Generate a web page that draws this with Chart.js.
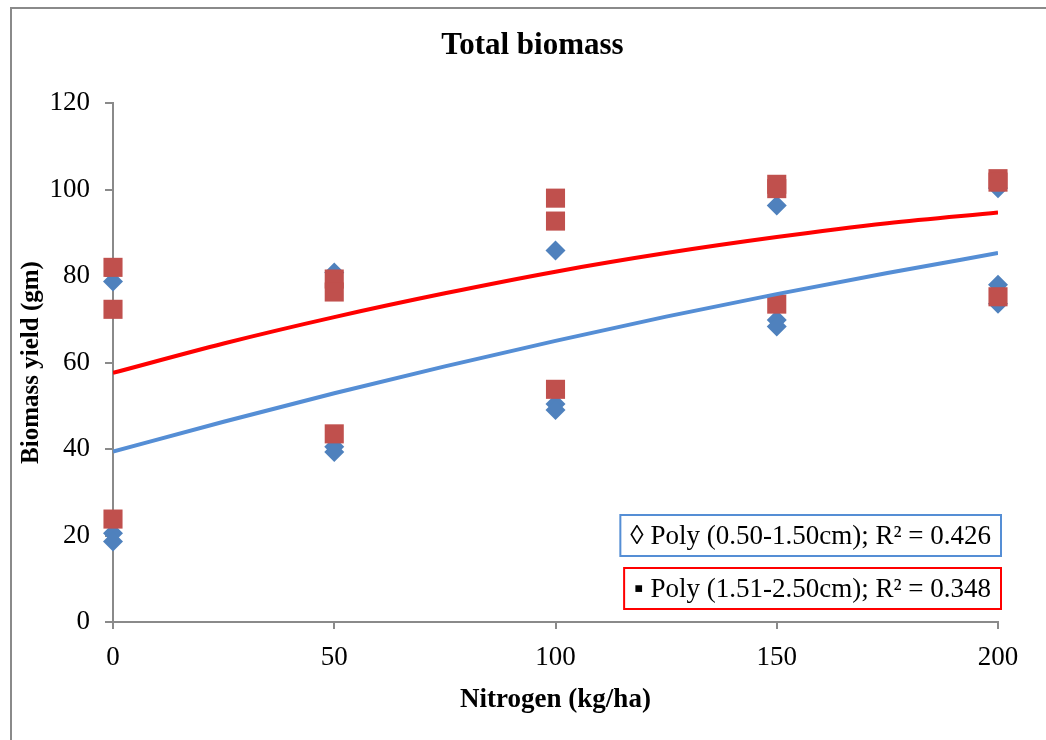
<!DOCTYPE html>
<html>
<head>
<meta charset="utf-8">
<script src="https://cdn.jsdelivr.net/npm/chart.js"></script>
<style>
  body { margin: 0; background: #fff; overflow: hidden; }
  #wrap { position: relative; width: 1046px; height: 740px; }
  #frame {
    position: absolute; left: 10px; top: 7px; width: 1100px; height: 800px;
    border-left: 2px solid #8a8a8a; border-top: 2px solid #8a8a8a;
  }
  canvas { position: absolute; left: 0; top: 0; }
</style>
</head>
<body>
<div id="wrap">
  <div id="frame"></div>
  <canvas id="myChart" width="1046" height="740"></canvas>
</div>

<script>
  // nitrogen levels (kg/ha), three plots per level
  const nitrogenX = [0, 0, 0, 50, 50, 50, 100, 100, 100, 150, 150, 150, 200, 200, 200]

  // biomass yield (gm) for 0.50-1.50cm
  const smallYield = [78.7, 20.5, 18.6, 80.8, 40.5, 39.3, 85.9, 50.4, 49.0, 96.3, 69.8, 68.3, 100.3, 78.0, 73.6]
  // biomass yield (gm) for 1.51-2.50cm
  const largeYield = [82.0, 72.3, 23.8, 79.3, 76.3, 43.5, 98.0, 92.7, 53.8, 101.2, 100.2, 73.5, 102.5, 101.7, 75.2]

  // poly trend lines
  const trendX = [0, 25, 50, 75, 100, 125, 150, 175, 200]
  const smallTrend = [39.4, 46.3, 52.9, 59.1, 65.0, 70.6, 75.8, 80.7, 85.3]
  const largeTrend = [57.6, 64.4, 70.5, 76.0, 81.0, 85.3, 89.0, 92.2, 94.7]

  const chartTitle = 'Total biomass'
  const legendLabels = ['\u25CA Poly (0.50-1.50cm); R\u00B2 = 0.426', '\u25AA Poly (1.51-2.50cm); R\u00B2 = 0.348']
  const legendColors = ['#558ed5', '#ff0000']

  const toPoints = (xs, ys) => xs.map((x, i) => ({ x: x, y: ys[i] }))

  // title (a bit left of the plot centre, like the original) and the boxed trendline labels
  const boxLegend = {
    id: 'boxLegend',
    afterDraw(chart) {
      const ctx = chart.ctx
      const area = chart.chartArea
      ctx.save()
      ctx.fillStyle = '#000'
      ctx.textAlign = 'center'
      ctx.textBaseline = 'middle'
      ctx.font = 'bold 31px "Liberation Serif"'
      ctx.fillText(chartTitle, (area.left + area.right) / 2 - 23, 46)

      ctx.textAlign = 'left'
      ctx.font = '27px "Liberation Serif"'
      const boxH = 41
      for (let i = 0; i < legendLabels.length; i++) {
        const w = ctx.measureText(legendLabels[i]).width + 20
        const right = area.right + 3
        const bottom = area.bottom - 13 - (legendLabels.length - 1 - i) * 53
        ctx.strokeStyle = legendColors[i]
        ctx.lineWidth = 2
        ctx.strokeRect(right - w, bottom - boxH, w, boxH)
        ctx.fillStyle = '#000'
        ctx.fillText(legendLabels[i], right - w + 10, bottom - boxH / 2 + 1)
      }
      ctx.restore()
    }
  }

  const ctx = document.getElementById('myChart')

  new Chart(ctx, {
    data: {
      datasets: [{
        type: 'line',
        data: toPoints(trendX, largeTrend),
        borderColor: '#ff0000',
        borderWidth: 4,
        pointRadius: 0,
        cubicInterpolationMode: 'monotone',
        order: 0
      }, {
        type: 'line',
        data: toPoints(trendX, smallTrend),
        borderColor: '#558ed5',
        borderWidth: 4,
        pointRadius: 0,
        cubicInterpolationMode: 'monotone',
        order: 1
      }, {
        type: 'scatter',
        data: toPoints(nitrogenX, largeYield),
        pointStyle: 'rect',
        pointRadius: 13.5,
        backgroundColor: '#c0504d',
        borderWidth: 0,
        clip: false,
        order: 2
      }, {
        type: 'scatter',
        data: toPoints(nitrogenX, smallYield),
        pointStyle: 'rectRot',
        pointRadius: 10,
        backgroundColor: '#4f81bd',
        borderWidth: 0,
        clip: false,
        order: 3
      }]
    },
    options: {
      responsive: false,
      animation: false,
      layout: { padding: { left: 0, right: 48, top: 103, bottom: 0 } },
      plugins: {
        legend: { display: false },
        tooltip: { enabled: false },
        title: { display: false }
      },
      scales: {
        x: {
          type: 'linear',
          min: 0,
          max: 200,
          afterFit: (scale) => { scale.height = 118 },
          ticks: {
            stepSize: 50,
            color: '#000',
            padding: 13,
            font: { family: 'Liberation Serif', size: 27 }
          },
          grid: { drawOnChartArea: false, tickLength: 7, color: '#8a8a8a', lineWidth: 2 },
          border: { color: '#8a8a8a', width: 2 },
          title: {
            display: true,
            text: 'Nitrogen (kg/ha)',
            color: '#000',
            font: { family: 'Liberation Serif', size: 27, weight: 'bold' },
            padding: { top: 24, bottom: 24 }
          }
        },
        y: {
          min: 0,
          max: 120,
          afterFit: (scale) => { scale.width = 113 },
          ticks: {
            stepSize: 20,
            color: '#000',
            padding: 15,
            font: { family: 'Liberation Serif', size: 27 }
          },
          grid: { drawOnChartArea: false, tickLength: 8, color: '#8a8a8a', lineWidth: 2 },
          border: { color: '#8a8a8a', width: 2 },
          title: {
            display: true,
            text: 'Biomass yield (gm)',
            color: '#000',
            font: { family: 'Liberation Serif', size: 25, weight: 'bold' },
            padding: { top: 17, bottom: 17 }
          }
        }
      }
    },
    plugins: [boxLegend]
  });
</script>
</body>
</html>
